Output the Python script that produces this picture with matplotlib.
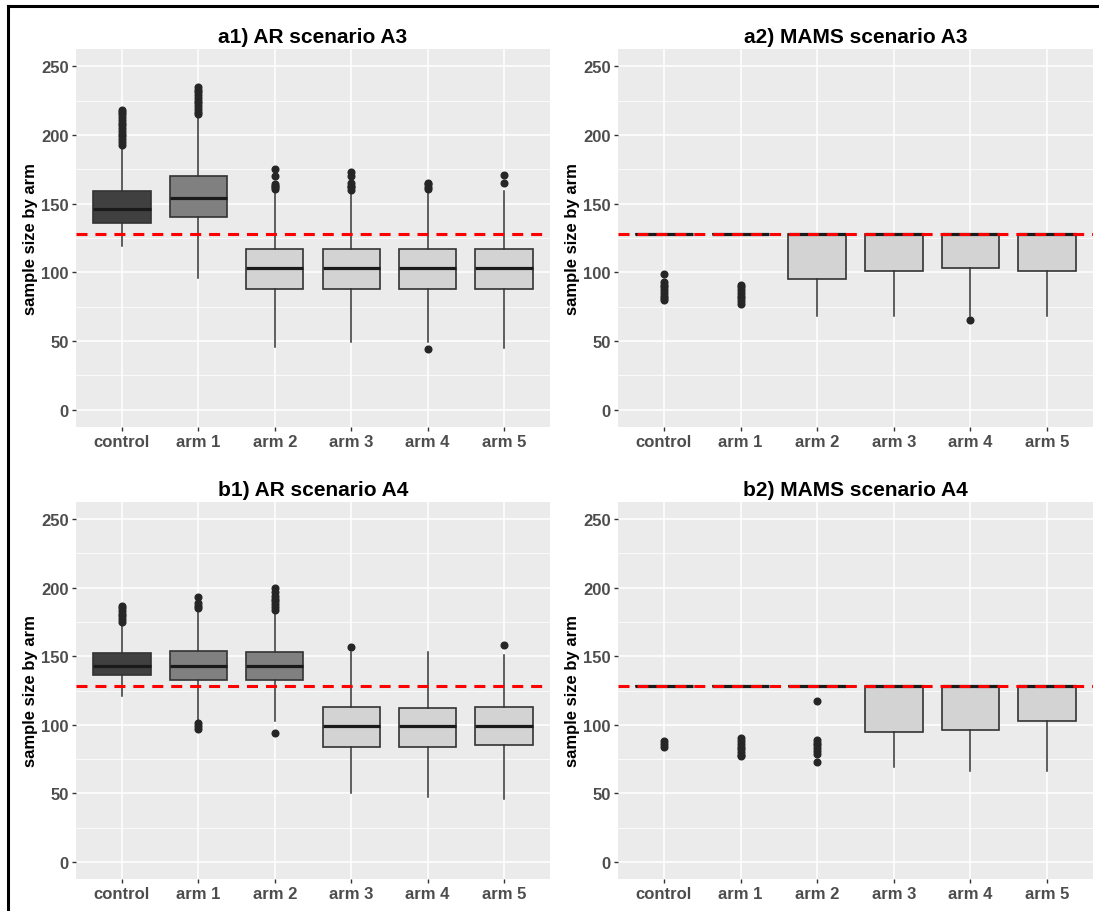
import matplotlib
matplotlib.use("Agg")
import matplotlib.pyplot as plt
from matplotlib.lines import Line2D

plt.rcParams["font.family"] = ["Liberation Sans", "DejaVu Sans"]
plt.rcParams["font.weight"] = "bold"

arms = ["control", "arm 1", "arm 2", "arm 3", "arm 4", "arm 5"]
target = 128

# a1) AR scenario A3
a1_q1 = [136, 140, 88, 88, 88, 88]
a1_med = [146, 154, 103, 103, 103, 103]
a1_q3 = [159, 170, 117, 117, 117, 117]
a1_lo = [119, 96, 46, 49, 49, 45]
a1_hi = [192, 214, 159, 159, 159, 159]
a1_fliers = [
    [193, 195, 197, 199, 201, 203, 205, 207, 209, 211, 213, 215, 217, 218],
    [215, 217, 219, 221, 223, 225, 227, 229, 231, 233, 235],
    [161, 162, 163, 164, 170, 175],
    [160, 162, 163, 165, 170, 173],
    [161, 162, 164, 165, 44],
    [165, 171],
]
a1_fill = ["#404040", "#808080", "#d3d3d3", "#d3d3d3", "#d3d3d3", "#d3d3d3"]

# a2) MAMS scenario A3
a2_q1 = [128, 128, 95, 101, 103, 101]
a2_med = [128, 128, 128, 128, 128, 128]
a2_q3 = [128, 128, 128, 128, 128, 128]
a2_lo = [128, 128, 68, 68, 68, 68]
a2_hi = [128, 128, 128, 128, 128, 128]
a2_fliers = [
    [99, 93, 91, 89, 87, 85, 83, 81, 80],
    [91, 89, 87, 85, 83, 81, 79, 77],
    [],
    [],
    [65],
    [],
]

# b1) AR scenario A4
b1_q1 = [136, 133, 133, 84, 84, 85]
b1_med = [143, 143, 143, 99, 99, 99]
b1_q3 = [152, 154, 153, 113, 112, 113]
b1_lo = [121, 102, 103, 50, 47, 46]
b1_hi = [174, 185, 183, 153, 153, 151]
b1_fliers = [
    [175, 177, 179, 181, 183, 185, 187],
    [185, 187, 189, 193, 97, 99, 101],
    [184, 186, 188, 190, 192, 194, 197, 200, 94],
    [157],
    [],
    [158],
]
b1_fill = ["#404040", "#808080", "#808080", "#d3d3d3", "#d3d3d3", "#d3d3d3"]

# b2) MAMS scenario A4
b2_q1 = [128, 128, 128, 95, 96, 103]
b2_med = [128, 128, 128, 128, 128, 128]
b2_q3 = [128, 128, 128, 128, 128, 128]
b2_lo = [128, 128, 128, 69, 66, 66]
b2_hi = [128, 128, 128, 128, 128, 128]
b2_fliers = [
    [84, 86, 88],
    [90, 88, 86, 84, 82, 80, 78, 77],
    [117, 89, 87, 85, 83, 81, 79, 73],
    [],
    [],
    [],
]
mams_fill = ["#d3d3d3"] * 6

panels = [
    ("a1) AR scenario A3", a1_q1, a1_med, a1_q3, a1_lo, a1_hi, a1_fliers, a1_fill),
    ("a2) MAMS scenario A3", a2_q1, a2_med, a2_q3, a2_lo, a2_hi, a2_fliers, mams_fill),
    ("b1) AR scenario A4", b1_q1, b1_med, b1_q3, b1_lo, b1_hi, b1_fliers, b1_fill),
    ("b2) MAMS scenario A4", b2_q1, b2_med, b2_q3, b2_lo, b2_hi, b2_fliers, mams_fill),
]

W, H = 1099, 912
# panel boxes in pixels: left, top, right, bottom
boxes = [(76, 50, 550, 428), (618, 50, 1093, 428),
         (76, 503, 550, 880), (618, 503, 1093, 880)]

fig = plt.figure(figsize=(W / 100, H / 100), dpi=100)

for (title, q1, med, q3, lo, hi, fl, fill), (l, t, r, b) in zip(panels, boxes):
    ax = fig.add_axes([l / W, 1 - b / H, (r - l) / W, (b - t) / H])
    ax.set_facecolor("#ebebeb")
    for s in ax.spines.values():
        s.set_visible(False)

    stats = []
    for i in range(len(arms)):
        stats.append({"med": med[i], "q1": q1[i], "q3": q3[i],
                      "whislo": lo[i], "whishi": hi[i], "fliers": fl[i]})
    pos = list(range(1, len(arms) + 1))
    res = ax.bxp(stats, positions=pos, widths=0.75, patch_artist=True,
                 showcaps=False,
                 boxprops=dict(edgecolor="#333333", linewidth=1.2),
                 whiskerprops=dict(color="#333333", linewidth=1.1),
                 medianprops=dict(color="#1a1a1a", linewidth=2.3),
                 flierprops=dict(marker="o", markerfacecolor="#262626",
                                 markeredgecolor="#262626", markersize=4.8))
    for patch, c in zip(res["boxes"], fill):
        patch.set_facecolor(c)

    ax.axhline(target, color="#ff0000", linewidth=2.2, linestyle=(0, (3.6, 2.6)), zorder=5)

    ax.set_xlim(0.4, 6.6)
    ax.set_ylim(-12.5, 262.5)
    ax.set_xticks(pos)
    ax.set_xticklabels(arms)
    ax.set_yticks([0, 50, 100, 150, 200, 250])
    ax.set_yticks([25, 75, 125, 175, 225], minor=True)
    ax.grid(True, which="major", color="white", linewidth=1.1)
    ax.grid(True, which="minor", axis="y", color="white", linewidth=0.55)
    ax.set_axisbelow(True)
    ax.tick_params(which="major", length=2.75, width=1.0, color="#333333",
                   labelsize=12, labelcolor="#4d4d4d", pad=2.5)
    ax.tick_params(which="minor", length=0)
    for lab in ax.get_xticklabels() + ax.get_yticklabels():
        lab.set_fontweight("bold")
    ax.set_ylabel("sample size by arm", fontsize=12, fontweight="bold", labelpad=2)
    ax.set_title(title, fontsize=15, fontweight="bold", pad=5)

# frame around the figure (left and top edges visible)
fig.add_artist(Line2D([8 / W, 8 / W], [0, 1 - 7 / H], color="black", linewidth=2.2))
fig.add_artist(Line2D([8 / W, 1], [1 - 7 / H, 1 - 7 / H], color="black", linewidth=2.2))

fig.savefig("out.png", dpi=100)
